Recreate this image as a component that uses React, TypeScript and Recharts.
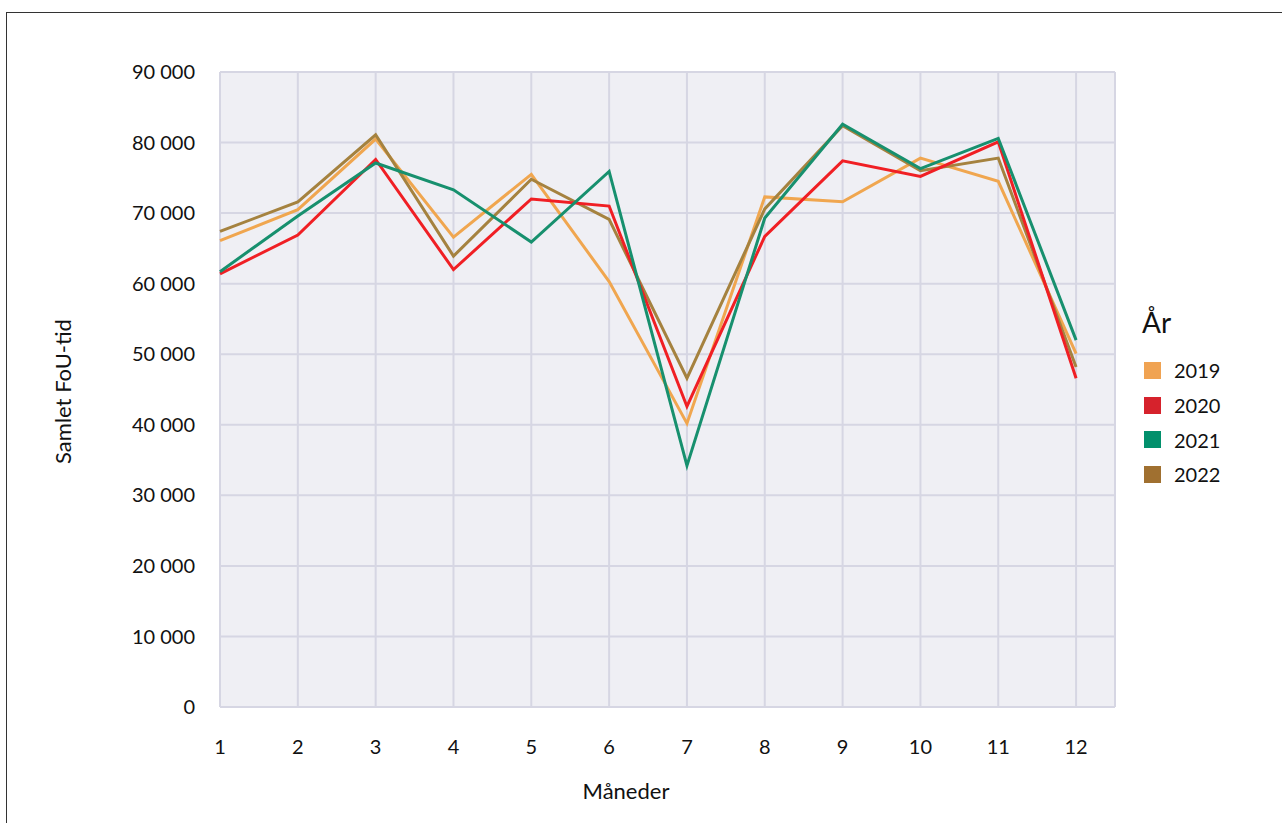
import { LineChart, Line, XAxis, YAxis, CartesianGrid } from "recharts";

const months = [1, 2, 3, 4, 5, 6, 7, 8, 9, 10, 11, 12];
const v2019 = [66100, 70500, 80500, 66600, 75500, 60300, 40200, 72300, 71600, 77800, 74500, 50100];
const v2020 = [61400, 66900, 77600, 62000, 72000, 71000, 42600, 66700, 77400, 75200, 80100, 46600];
const v2021 = [61700, 69600, 77100, 73300, 65900, 75900, 34200, 69300, 82600, 76300, 80600, 52000];
const v2022 = [67400, 71600, 81100, 63900, 74800, 69100, 46600, 70600, 82400, 76000, 77800, 48200];
const yTicks = [0, 10000, 20000, 30000, 40000, 50000, 60000, 70000, 80000, 90000];

const series = [
  { key: "y2019", name: "2019", line: "#F0A64F", box: "#F0A352" },
  { key: "y2022", name: "2022", line: "#A5823F", box: "#A07030" },
  { key: "y2020", name: "2020", line: "#F01F24", box: "#D6222C" },
  { key: "y2021", name: "2021", line: "#17906E", box: "#02906C" },
];
const legendOrder = ["2019", "2020", "2021", "2022"];

const data = months.map((m, i) => ({
  month: m,
  y2019: v2019[i],
  y2020: v2020[i],
  y2021: v2021[i],
  y2022: v2022[i],
}));

const font = "Lato, 'Open Sans', sans-serif";
const fmt = (v: number) => String(v).replace(/\B(?=(\d{3})+(?!\d))/g, " ");

function LegendBox() {
  return (
    <div style={{ position: "absolute", left: 1142, top: 305, fontFamily: font, color: "#111" }}>
      <div style={{ fontSize: 28, lineHeight: "34px", marginBottom: 14 }}>År</div>
      {legendOrder.map((n) => {
        const s = series.find((x) => x.name === n)!;
        return (
          <div key={n} style={{ display: "flex", alignItems: "center", height: 34.7, fontSize: 20 }}>
            <span style={{ width: 17, height: 17, background: s.box, marginLeft: 2, marginRight: 13 }} />
            {n}
          </div>
        );
      })}
    </div>
  );
}

export default function App() {
  return (
    <div style={{ position: "fixed", left: 0, top: 0, width: 1282, height: 823, overflow: "hidden", background: "#fff" }}>
      <div style={{ position: "absolute", left: 6, top: 12, width: 1400, height: 900, border: "1.5px solid #333" }} />
      <div style={{ position: "absolute", left: 0, top: 0 }}>
        <LineChart width={1282} height={823} data={data} margin={{ top: 72, right: 167, bottom: 56, left: 120 }}>
          <CartesianGrid fill="#EFEFF4" stroke="#D6D6E3" strokeWidth={2} />
          <XAxis
            dataKey="month"
            type="number"
            domain={[1, 12.5]}
            ticks={months}
            axisLine={false}
            tickLine={false}
            tickSize={0}
            tickMargin={33}
            height={60}
            tick={{ fill: "#111", fontSize: 20, fontFamily: font }}
          />
          <YAxis
            domain={[0, 90000]}
            ticks={yTicks}
            width={100}
            axisLine={false}
            tickLine={false}
            tickSize={0}
            tickMargin={25}
            tickFormatter={fmt}
            tick={{ fill: "#111", fontSize: 20, fontFamily: font }}
          />
          {series.map((s) => (
            <Line
              key={s.key}
              type="linear"
              dataKey={s.key}
              name={s.name}
              stroke={s.line}
              strokeWidth={3}
              dot={false}
              activeDot={false}
              isAnimationActive={false}
            />
          ))}
        </LineChart>
      </div>
      <LegendBox />
      <div style={{ position: "absolute", left: 526, top: 777, width: 200, textAlign: "center", fontFamily: font, fontSize: 22, color: "#111" }}>
        Måneder
      </div>
      <div
        style={{
          position: "absolute",
          left: 62 - 100,
          top: 393 - 15,
          width: 200,
          textAlign: "center",
          fontFamily: font,
          fontSize: 22,
          color: "#111",
          transform: "rotate(-90deg)",
        }}
      >
        Samlet FoU-tid
      </div>
    </div>
  );
}
